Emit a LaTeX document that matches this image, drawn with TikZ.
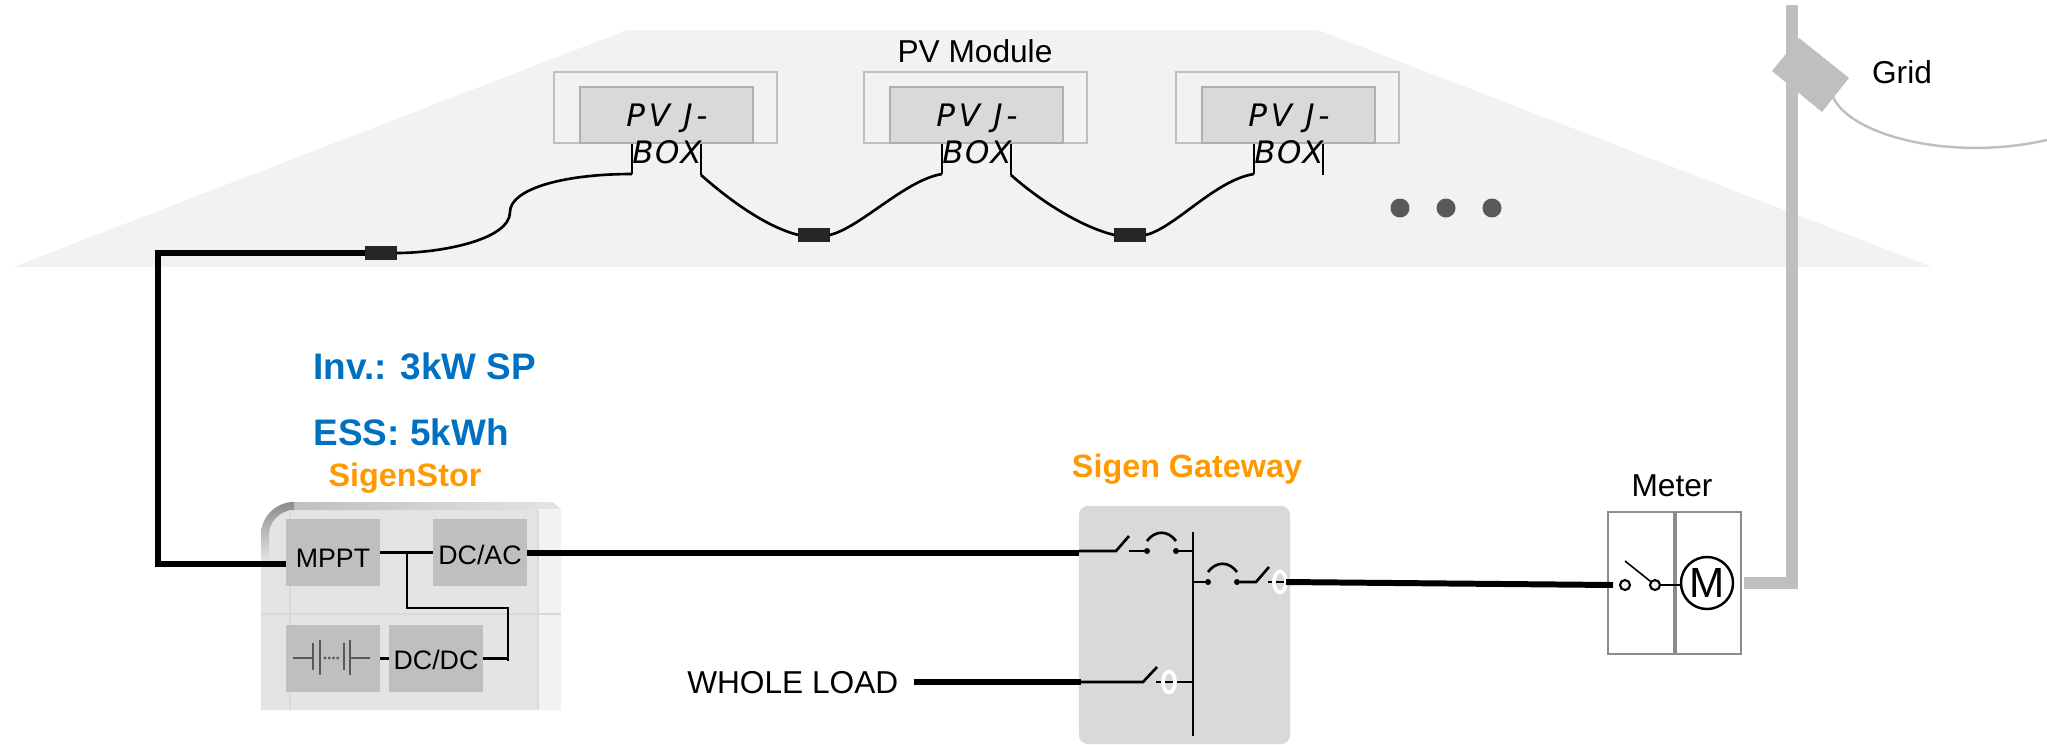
\documentclass[tikz,border=0pt]{standalone}
\usepackage{fontspec}
\usetikzlibrary{shapes.geometric}
\setmainfont{Liberation Sans}
\newfontfamily\handfont[LetterSpace=5]{DejaVu Sans}
\definecolor{roofgray}{HTML}{F2F2F2}
\definecolor{boxgray}{HTML}{D9D9D9}
\definecolor{linegray}{HTML}{BFBFBF}
\definecolor{edgegray}{HTML}{AFAFAF}
\definecolor{metergray}{HTML}{8C8C8C}
\definecolor{dotgray}{HTML}{595959}
\definecolor{sigenblue}{HTML}{0070C0}
\definecolor{sigenorange}{HTML}{FF9900}
\definecolor{devgray}{HTML}{E4E4E4}
\tikzset{
  power/.style={line width=1.7pt},
  signal/.style={line width=0.75pt},
  lbl/.style={font=\fontsize{9}{11}\selectfont,inner sep=0pt},
  title/.style={font=\fontsize{9.2}{11}\selectfont\bfseries,text=sigenorange,inner sep=0pt},
  rating/.style={font=\fontsize{10.5}{12}\selectfont\bfseries,text=sigenblue,inner sep=0pt,anchor=west},
  unitbox/.style={fill=linegray,minimum width=0.94cm,minimum height=0.67cm,inner sep=0pt,outer sep=0pt},
  unittext/.style={font=\fontsize{7.6}{9}\selectfont,inner sep=0pt},
  plug/.style={fill=black!85,minimum width=0.31cm,minimum height=0.14cm,inner sep=0pt,outer sep=0pt},
  contact/.style={circle,fill=black,minimum size=0.06cm,inner sep=0pt,outer sep=0pt},
  ring/.style={ellipse,draw=white,line width=1.05pt,minimum width=0.12cm,minimum height=0.21cm,inner sep=0pt},
  meterbox/.style={draw=metergray,line width=0.7pt,minimum height=1.42cm,inner sep=0pt,outer sep=0pt},
}
\begin{document}
\begin{tikzpicture}[x=0.01cm,y=-0.01cm]
   \useasboundingbox (0,0) rectangle (2047,744);
   % roof
   \fill[roofgray] (13,267) -- (627,30) -- (1318,30) -- (1932,267) -- cycle;
   \node[lbl] (pvlabel) at (975,51) {PV Module};
   % pole and grid
   \fill[linegray] (1786,5) rectangle (1798,589);
   \fill[linegray] (1744,577) rectangle (1798,589);
   \fill[linegray] (1799,38) -- (1849,78) -- (1822,112) -- (1772,71) -- cycle;
   \node[lbl] (gridlabel) at (1902,72) {Grid};
   \coordinate (gridA) at (1833,97);
   \coordinate (gridB) at (2047,140);
   \draw[linegray,line width=0.7pt] (gridA) .. controls (1850,135) and (1950,162) .. (gridB);
   % modules
   \foreach \x/\n in {554/a,864/b,1176/c} {
     \draw[linegray,line width=0.55pt] (\x,72) rectangle (\x+223,143);
     \draw[edgegray,fill=boxgray,line width=0.55pt] (\x+26,87) rectangle (\x+199,143);
     \node[font=\handfont\itshape\fontsize{8.8}{10.5}\selectfont,align=center,inner sep=0pt] (pv\n) at (\x+113,134) {{\addfontfeature{LetterSpace=12}PV J-}\\BOX};
     \coordinate (\n L0) at (\x+78,144);
     \coordinate (\n L1) at (\x+78,174);
     \coordinate (\n R0) at (\x+147,144);
     \coordinate (\n R1) at (\x+147,175);
     \draw[signal] (\n L0) -- (\n L1);
     \draw[signal] (\n R0) -- (\n R1);
   }
   % strings
   \node[plug] (plug0) at (381,253) {};
   \node[plug] (plug1) at (814,235) {};
   \node[plug] (plug2) at (1130,235) {};
   \draw[signal] (plug0.east) .. controls (440,253) and (510,240) .. (510,212)
        .. controls (510,190) and (560,174) .. (aL1);
   \draw[signal] (aR1) .. controls (735,205) and (770,228) .. (plug1.west);
   \draw[signal] (plug1.east) .. controls (860,228) and (905,180) .. (bL1);
   \draw[signal] (bR1) .. controls (1045,205) and (1085,228) .. (plug2.west);
   \draw[signal] (plug2.east) .. controls (1175,228) and (1215,180) .. (cL1);
   \foreach \x/\n in {1400/1,1446/2,1492/3}
     \node[circle,fill=dotgray,minimum size=0.19cm,inner sep=0pt] (more\n) at (\x,208) {};
   % storage unit
   \fill[devgray] (261,710) -- (261,535) arc[start angle=180,end angle=270,radius=33]
        -- (553,502) -- (561,510) -- (561,710) -- cycle;
   \shade[left color=black!25,right color=devgray] (294,502) -- (553,502) -- (561,510) -- (294,510) -- cycle;
   \shade[top color=black!45,bottom color=devgray] (261,560) -- (261,535)
        arc[start angle=180,end angle=270,radius=33] -- (294,510)
        arc[start angle=270,end angle=180,radius=25] -- (269,560) -- cycle;
   \fill[white,opacity=.55] (538,509) rectangle (561,710);
   \draw[black!15,line width=0.3pt] (261,614) -- (561,614);
   \draw[black!15,line width=0.3pt] (290,510) -- (290,710);
   \draw[black!15,line width=0.3pt] (538,510) -- (538,710);
   \node[title] (stortitle) at (405,478) {SigenStor};
   \node[rating] (invlabel) at (313,366) {Inv.: 3kW SP};
   \node[rating] (esslabel) at (313,432) {ESS: 5kWh};
   \node[unitbox] (mppt) at (333,552.5) {};
   \node[unitbox] (dcac) at (480,552.5) {};
   \node[unitbox] (batt) at (333,658.5) {};
   \node[unitbox] (dcdc) at (436,658.5) {};
   % battery symbol
   \begin{scope}[dotgray,line width=0.45pt]
     \draw (293,658) -- (313,658);
     \draw (313,643) -- (313,670);
     \draw (320,640) -- (320,675);
     \draw (344,643) -- (344,670);
     \draw (350,640) -- (350,675);
     \draw (350,658) -- (370,658);
     \draw[line width=0.9pt,dash pattern=on 0pt off 1.2pt,line cap=round] (325,658) -- (338,658);
   \end{scope}
   \coordinate (busA) at (407,553);
   \coordinate (busB) at (407,608);
   \coordinate (busC) at (508,608);
   \coordinate (busD) at (508,661);
   \draw[signal] (mppt.east) -- (dcac.west);
   \draw[signal] (busA) -- (busB) -- (busC) -- (busD);
   \draw[signal] (dcdc.east) -- (dcdc.east -| busD);
   \draw[signal] (batt.east) -- (dcdc.west);
   \node[unittext] (mppttext) at (333,558) {MPPT};
   \node[unittext] (dcactext) at (480,555) {DC/AC};
   \node[unittext] (dcdctext) at (436,660) {DC/DC};
   % gateway
   \node[fill=boxgray,rounded corners=0.09cm,minimum width=2.11cm,minimum height=2.38cm,inner sep=0pt,outer sep=0pt] (gateway) at (1184.5,625) {};
   \node[title] (gwtitle) at (1187,469) {Sigen Gateway};
   \coordinate (bus0) at (1193,532);
   \coordinate (bus1) at (1193,736);
   \draw[signal] (bus0) -- (bus1);
   % top branch
   \coordinate (inA) at (1079,551);
   \coordinate (swA) at (1116,551);
   \coordinate (swB) at (1129,536);
   \coordinate (swC) at (1129,551);
   \node[contact] (brkA) at (1147,551) {};
   \node[contact] (brkB) at (1176,551) {};
   \draw[signal] (inA) -- (swA) -- (swB);
   \draw[signal] (swC) -- (brkA);
   \draw[signal] (brkB) -- (brkB -| bus0);
   \draw[signal] (1147,541) .. controls (1155,530) and (1168,530) .. (1176,541);
   % middle branch
   \coordinate (swD) at (1256,582);
   \coordinate (swE) at (1269,567);
   \coordinate (outA) at (1268,582);
   \coordinate (outB) at (1288,582);
   \node[contact] (brkC) at (1208,582) {};
   \node[contact] (brkD) at (1237,582) {};
   \draw[signal] (brkC -| bus0) -- (brkC);
   \draw[signal] (brkD) -- (swD) -- (swE);
   \draw[signal] (outA) -- (outB);
   \draw[signal] (1208,572) .. controls (1216,561) and (1229,561) .. (1237,572);
   \node[ring] (ringA) at (1280,582) {};
   % bottom branch
   \coordinate (inB) at (1081,682);
   \coordinate (swF) at (1143,682);
   \coordinate (swG) at (1157,667);
   \coordinate (swH) at (1156,682);
   \draw[signal] (inB) -- (swF) -- (swG);
   \draw[signal] (swH) -- (swH -| bus0);
   \node[ring] (ringB) at (1169,682) {};
   \node[lbl,anchor=east] (loadlabel) at (899,683) {WHOLE LOAD};
   \coordinate (loadA) at (914,682);
   % meter
   \node[meterbox,minimum width=0.66cm] (meterL) at (1641,583) {};
   \node[meterbox,minimum width=0.65cm] (meterR) at (1708.5,583) {};
   \node[lbl] (meterlabel) at (1672,486) {Meter};
   \node[circle,draw,line width=0.7pt,minimum size=0.52cm,inner sep=0pt,font=\fontsize{12}{14}\selectfont] (motor) at (1707,583) {M};
   \node[circle,draw,fill=roofgray,line width=0.6pt,minimum size=0.1cm,inner sep=0pt] (swL) at (1625,585) {};
   \node[circle,draw,fill=roofgray,line width=0.6pt,minimum size=0.1cm,inner sep=0pt] (swR) at (1655,585) {};
   \coordinate (swT) at (1625,561);
   \draw[line width=0.45pt] (swT) -- (swR);
   \draw[line width=0.6pt] (swR) -- (swR -| motor.west);
   % main power lines
   \coordinate (cornerA) at (158,253);
   \coordinate (cornerB) at (158,564);
   \coordinate (meterIn) at (1613,585);
   \draw[power,line join=miter] (plug0.west) -- (cornerA) -- (cornerB) -- (cornerB -| mppt.west);
   \draw[power] (dcac.east) -- (dcac.east -| inA);
   \draw[power] (outB) ++(-2,0) -- (meterIn);
   \draw[power] (loadA) -- (inB);
\end{tikzpicture}
\end{document}
